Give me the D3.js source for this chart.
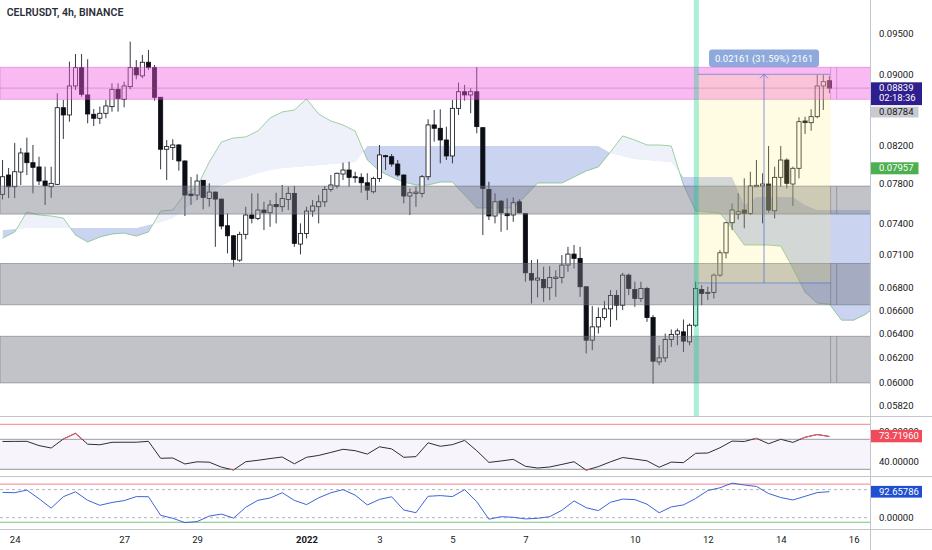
<!DOCTYPE html>
<html>
<head>
<meta charset="utf-8">
<script src="https://cdnjs.cloudflare.com/ajax/libs/d3/7.8.5/d3.min.js"></script>
<style>
  body { margin: 0; background: #fff; }
  svg { display: block; font-family: Roboto, "Noto Sans", sans-serif; }
</style>
</head>
<body>
<svg id="chart" width="932" height="550"></svg>
<script>
// CELRUSDT 4h candles, first visible bar Dec 23 2021 16:00
var firstBar = new Date(2021, 11, 23, 16);
var barHours = 4;

var open = [
  0.07686,0.07884,0.07763,0.07915,0.08116,0.08013,0.07968,0.07822,0.07763,0.07788,
  0.08614,0.08532,0.08864,0.09080,0.08760,0.08540,0.08495,0.08551,0.08626,0.08825,
  0.08710,0.08856,0.09080,0.08982,0.09145,0.09080,0.08733,0.08156,0.08173,0.08202,
  0.08031,0.07689,0.07679,0.07829,0.07645,0.07709,0.07638,0.07375,0.07278,0.07049,
  0.07292,0.07480,0.07447,0.07529,0.07502,0.07585,0.07562,0.07635,0.07696,0.07199,
  0.07301,0.07519,0.07562,0.07611,0.07736,0.07771,0.07894,0.07936,0.07866,0.07860,
  0.07804,0.07712,0.07849,0.08087,0.08076,0.07999,0.07884,0.07669,0.07696,0.07696,
  0.07866,0.08421,0.08384,0.08256,0.08084,0.08607,0.08797,0.08760,0.08797,0.08391,
  0.07736,0.07470,0.07618,0.07496,0.07480,0.07611,0.07496,0.06926,0.06866,0.06872,
  0.06797,0.06881,0.06890,0.07003,0.07105,0.07065,0.06806,0.06344,0.06456,0.06536,
  0.06611,0.06729,0.06643,0.06911,0.06782,0.06702,0.06791,0.06536,0.06165,0.06198,
  0.06350,0.06394,0.06414,0.06330,0.06470,0.06782,0.06747,0.06756,0.06911,0.07117,
  0.07404,0.07489,0.07529,0.07496,0.07763,0.07771,0.07791,0.07522,0.07860,0.08041,
  0.07791,0.07954,0.08465,0.08446,0.08513,0.08864,0.08926];
var high = [
  0.08041,0.07957,0.08224,0.08170,0.08281,0.08202,0.08076,0.07971,0.07971,0.08779,
  0.08702,0.09152,0.09245,0.09245,0.09181,0.08599,0.08626,0.08702,0.08895,0.08895,
  0.08914,0.09396,0.09172,0.09233,0.09294,0.09112,0.08737,0.08256,0.08264,0.08213,
  0.08036,0.07863,0.07891,0.07832,0.07798,0.07714,0.07643,0.07496,0.07285,0.07317,
  0.07561,0.07696,0.07696,0.07611,0.07628,0.07702,0.07781,0.07763,0.07771,0.07398,
  0.07561,0.07628,0.07679,0.07771,0.07884,0.07908,0.08013,0.08023,0.07918,0.07902,
  0.07902,0.07866,0.08202,0.08095,0.08105,0.08041,0.07889,0.07746,0.07763,0.07884,
  0.08484,0.08588,0.08596,0.08402,0.08702,0.08902,0.08876,0.08837,0.09085,0.08391,
  0.07814,0.07696,0.07628,0.07645,0.07655,0.07635,0.07499,0.07049,0.07056,0.06987,
  0.06993,0.06956,0.07096,0.07173,0.07190,0.07173,0.06806,0.06635,0.06623,0.06681,
  0.06776,0.06776,0.06932,0.06926,0.06851,0.06851,0.06806,0.06557,0.06302,0.06400,
  0.06434,0.06442,0.06519,0.06485,0.06851,0.06821,0.06806,0.06926,0.07142,0.07413,
  0.07595,0.07696,0.07850,0.07918,0.08041,0.07902,0.08191,0.07971,0.08191,0.08059,
  0.07971,0.08506,0.08513,0.08596,0.08994,0.08994,0.08982];
var low = [
  0.07635,0.07648,0.07648,0.07781,0.07884,0.07696,0.07781,0.07579,0.07651,0.07781,
  0.08267,0.08457,0.08817,0.08740,0.08439,0.08409,0.08432,0.08495,0.08569,0.08569,
  0.08619,0.08825,0.08942,0.08955,0.09053,0.08694,0.07943,0.07832,0.08041,0.07929,
  0.07470,0.07579,0.07628,0.07536,0.07562,0.07173,0.07340,0.07111,0.06987,0.07033,
  0.07244,0.07398,0.07430,0.07333,0.07365,0.07398,0.07512,0.07529,0.07173,0.07102,
  0.07253,0.07463,0.07398,0.07561,0.07712,0.07746,0.07832,0.07763,0.07804,0.07702,
  0.07628,0.07696,0.07814,0.07936,0.07971,0.07866,0.07595,0.07480,0.07561,0.07655,
  0.07832,0.08238,0.08006,0.08041,0.08006,0.08532,0.08694,0.08551,0.08329,0.07285,
  0.07430,0.07398,0.07317,0.07333,0.07413,0.07496,0.06851,0.06658,0.06711,0.06672,
  0.06687,0.06716,0.06836,0.06941,0.06972,0.06716,0.06234,0.06261,0.06400,0.06513,
  0.06456,0.06513,0.06600,0.06731,0.06629,0.06672,0.06499,0.05992,0.06138,0.06165,
  0.06288,0.06302,0.06247,0.06302,0.06456,0.06643,0.06687,0.06702,0.06896,0.07065,
  0.07333,0.07436,0.07350,0.07480,0.07763,0.07398,0.07502,0.07447,0.07763,0.07746,
  0.07569,0.07849,0.08321,0.08357,0.08495,0.08588,0.08779];
var close = [
  0.07866,0.07763,0.07918,0.08116,0.08013,0.07964,0.07822,0.07773,0.07798,0.08614,
  0.08532,0.08864,0.09080,0.08768,0.08543,0.08495,0.08551,0.08634,0.08825,0.08717,
  0.08864,0.09080,0.08994,0.09145,0.09080,0.08733,0.08156,0.08184,0.08202,0.08031,
  0.07679,0.07673,0.07822,0.07655,0.07709,0.07638,0.07372,0.07278,0.07056,0.07292,
  0.07480,0.07447,0.07529,0.07502,0.07579,0.07562,0.07645,0.07696,0.07206,0.07301,
  0.07519,0.07569,0.07611,0.07736,0.07781,0.07902,0.07936,0.07860,0.07856,0.07804,
  0.07729,0.07849,0.08095,0.08076,0.07999,0.07884,0.07669,0.07702,0.07709,0.07866,
  0.08421,0.08384,0.08256,0.08084,0.08607,0.08797,0.08760,0.08797,0.08402,0.07746,
  0.07470,0.07611,0.07502,0.07473,0.07601,0.07502,0.06932,0.06866,0.06884,0.06797,
  0.06890,0.06893,0.07003,0.07105,0.07065,0.06806,0.06344,0.06456,0.06536,0.06611,
  0.06729,0.06643,0.06911,0.06791,0.06702,0.06791,0.06536,0.06171,0.06198,0.06350,
  0.06392,0.06422,0.06336,0.06470,0.06791,0.06747,0.06756,0.06911,0.07117,0.07404,
  0.07529,0.07512,0.07496,0.07771,0.07778,0.07791,0.07529,0.07860,0.08041,0.07798,
  0.07954,0.08457,0.08446,0.08513,0.08864,0.08914,0.08839];

// ichimoku leading spans, one value every 2 bars (index 0, 2, 4 ...)
var spanA = [
  0.07256,0.07314,0.07509,0.07480,0.07470,0.07450,0.07285,0.07218,0.07266,0.07295,
  0.07304,0.07275,0.07314,0.07519,0.07529,0.07689,0.07760,0.08020,0.08234,0.08278,
  0.08289,0.08354,0.08498,0.08566,0.08588,0.08714,0.08543,0.08465,0.08421,0.08354,
  0.08041,0.07926,0.07863,0.07811,0.07781,0.07781,0.07811,0.07811,0.07679,0.07549,
  0.07549,0.07549,0.07549,0.07669,0.07801,0.07801,0.07801,0.07863,0.07926,0.07968,
  0.08127,0.08300,0.08256,0.08202,0.08202,0.08191,0.07781,0.07519,0.07509,0.07499,
  0.07352,0.07190,0.07190,0.07190,0.07180,0.06975,0.06758,0.06661,0.06652,0.06513,
  0.06513,0.06565,0.06644];
var spanB = [
  0.07333,0.07343,0.07352,0.07352,0.07352,0.07352,0.07352,0.07352,0.07352,0.07352,
  0.07352,0.07352,0.07382,0.07411,0.07450,0.07549,0.07628,0.07709,0.07781,0.07832,
  0.07863,0.07905,0.07936,0.07957,0.07968,0.07978,0.07989,0.07999,0.08010,0.08020,
  0.08191,0.08191,0.08191,0.08191,0.08191,0.08191,0.08191,0.08191,0.08191,0.08191,
  0.08191,0.08191,0.08191,0.08191,0.08191,0.08191,0.08191,0.08191,0.08191,0.08191,
  0.08116,0.08084,0.08052,0.08041,0.08031,0.08020,0.07863,0.07863,0.07863,0.07863,
  0.07863,0.07579,0.07658,0.07658,0.07658,0.07658,0.07579,0.07529,0.07529,0.07529,
  0.07529,0.07529,0.07529];

// oscillators, one value every 2 bars
var rsi = [
  67.1,67.2,67.3,61.6,58.4,70.4,78.0,63.5,62.7,66.0,
  66.1,66.1,67.3,44.7,45.1,37.1,40.0,39.5,32.9,29.1,
  40.1,42.0,44.3,46.4,37.3,46.0,48.5,52.5,56.7,54.8,
  50.3,60.0,57.2,46.0,46.9,65.3,60.7,62.9,68.5,54.8,
  39.2,41.1,43.3,34.0,31.7,33.1,36.5,40.1,28.9,33.6,
  40.0,45.7,43.6,41.3,32.7,39.6,38.9,51.3,51.7,58.7,
  67.6,67.1,71.3,64.1,70.0,65.9,72.7,76.4,73.7196];
var stoch = [
  90.2,89.1,98.4,67.7,34.2,74.8,92.3,62.0,44.2,54.2,
  60.9,75.2,74.8,8.6,-2.1,-17.5,-13.9,5.7,12.8,-1.4,
  37.1,62.0,70.2,89.1,61.7,46.7,70.9,88.7,100.1,80.5,
  45.3,65.2,74.5,27.4,17.8,76.3,78.8,75.2,100.1,57.0,
  -5.3,3.6,1.4,-4.3,-2.1,3.6,26.4,59.9,35.6,25.3,
  54.9,66.3,64.5,48.1,17.5,38.5,45.6,68.4,96.9,106.6,
  123.3,116.5,111.5,86.2,72.0,63.1,76.3,89.5,92.65786];

// horizontal zones [top, bottom]
var pinkZone = [0.09085, 0.08710];
var grayZones = [[0.07770, 0.07489], [0.07018, 0.06646], [0.06377, 0.05997]];
var measureTop = 0.09001, measureBottom = 0.06840;

var priceTicks = [0.095, 0.09, 0.082, 0.078, 0.074, 0.071, 0.068, 0.066, 0.064, 0.062, 0.06, 0.0582];
var dayTicks = [new Date(2021,11,24), new Date(2021,11,27), new Date(2021,11,29), new Date(2022,0,1),
  new Date(2022,0,3), new Date(2022,0,5), new Date(2022,0,7), new Date(2022,0,10),
  new Date(2022,0,12), new Date(2022,0,14), new Date(2022,0,16)];
var dayLabels = ['24', '27', '29', '2022', '3', '5', '7', '10', '12', '14', '16'];

var W = 932, H = 550, axisX = 871, paneBottom = 416.5;
var ink = '#131722';

function barTime(i) { return new Date(firstBar.getTime() + i * barHours * 3600 * 1000); }

var x = d3.scaleTime().domain([new Date(2021,11,24), new Date(2022,0,16)]).range([14.7, 853.7]);
var y = d3.scaleLog().domain([0.095, 0.0582]).range([33.3, 405.7]);
var yRsi = d3.scaleLinear().domain([30, 70]).range([469.3, 439.3]);
var yStoch = d3.scaleLinear().domain([0, 100]).range([517.7, 489.64]);

var svg = d3.select('#chart');
var defs = svg.append('defs');
defs.append('clipPath').attr('id', 'pane').append('rect')
  .attr('x', 0).attr('y', 0).attr('width', axisX).attr('height', paneBottom);

// cloud
var cloud = spanA.map(function(a, k) { return {t: barTime(2 * k), a: a, b: spanB[k]}; });
var cx = function(d) { return x(d.t); };
defs.append('clipPath').attr('id', 'aboveB').append('path')
  .attr('d', d3.area().x(cx).y0(0).y1(function(d) { return y(d.b); })(cloud));
defs.append('clipPath').attr('id', 'belowB').append('path')
  .attr('d', d3.area().x(cx).y0(function(d) { return y(d.b); }).y1(paneBottom)(cloud));
var band = d3.area().x(cx).y0(function(d) { return y(d.b); }).y1(function(d) { return y(d.a); });

var main = svg.append('g').attr('clip-path', 'url(#pane)');
main.append('path').attr('d', band(cloud)).attr('fill', 'rgba(100,130,210,0.11)').attr('clip-path', 'url(#aboveB)');
main.append('path').attr('d', band(cloud)).attr('fill', 'rgba(100,130,210,0.34)').attr('clip-path', 'url(#belowB)');
main.append('path').attr('d', d3.line().x(cx).y(function(d) { return y(d.a); })(cloud))
  .attr('fill', 'none').attr('stroke', 'rgba(76,175,80,0.6)').attr('stroke-width', 0.9);

// candles
var bars = open.map(function(o, i) { return {t: barTime(i), o: o, h: high[i], l: low[i], c: close[i]}; });
var bw = 4.2;
var gBars = main.append('g');
gBars.selectAll('line').data(bars).enter().append('line')
  .attr('x1', function(d) { return x(d.t); }).attr('x2', function(d) { return x(d.t); })
  .attr('y1', function(d) { return y(d.h); }).attr('y2', function(d) { return y(d.l); })
  .attr('stroke', '#363a45').attr('stroke-width', 1);
gBars.selectAll('rect').data(bars).enter().append('rect')
  .attr('x', function(d) { return x(d.t) - bw / 2; })
  .attr('y', function(d) { return y(Math.max(d.o, d.c)); })
  .attr('width', bw)
  .attr('height', function(d) { return Math.max(1, Math.abs(y(d.o) - y(d.c))); })
  .attr('fill', function(d) { return d.c >= d.o ? '#ffffff' : '#0c0e15'; })
  .attr('stroke', '#0c0e15').attr('stroke-width', 0.8);

// last price line
var last = close[close.length - 1];
main.append('line').attr('x1', 0).attr('x2', axisX).attr('y1', y(last)).attr('y2', y(last))
  .attr('stroke', 'rgba(120,40,140,0.35)').attr('stroke-width', 1);

// zones
grayZones.forEach(function(z) {
  main.append('rect').attr('x', 0).attr('width', axisX)
    .attr('y', y(z[0])).attr('height', y(z[1]) - y(z[0]))
    .attr('fill', 'rgba(120,123,134,0.45)').attr('stroke', 'rgba(100,103,114,0.6)').attr('stroke-width', 0.8);
});
main.append('rect').attr('x', 0).attr('width', axisX)
  .attr('y', y(pinkZone[0])).attr('height', y(pinkZone[1]) - y(pinkZone[0]))
  .attr('fill', 'rgba(240,90,225,0.42)').attr('stroke', 'rgba(200,60,200,0.45)').attr('stroke-width', 0.8);
[136.2, 137.2].forEach(function(bi) {
  var vx = x(barTime(bi));
  grayZones.concat([pinkZone]).forEach(function(z, zi) {
    main.append('line').attr('x1', vx).attr('x2', vx).attr('y1', y(z[0])).attr('y2', y(z[1]))
      .attr('stroke', zi === 3 ? 'rgba(180,60,180,0.35)' : 'rgba(100,103,114,0.45)').attr('stroke-width', 1);
  });
});

// measured range box
var mx0 = x(barTime(114.3)), mx1 = x(barTime(136.2)), mxc = (mx0 + mx1) / 2;
main.append('rect').attr('x', mx0).attr('width', mx1 - mx0)
  .attr('y', y(measureTop)).attr('height', y(measureBottom) - y(measureTop))
  .attr('fill', 'rgba(255,240,100,0.18)');
[measureTop, measureBottom].forEach(function(p) {
  main.append('line').attr('x1', mx0).attr('x2', mx1).attr('y1', y(p)).attr('y2', y(p))
    .attr('stroke', 'rgba(70,110,210,0.6)').attr('stroke-width', 1);
});
main.append('line').attr('x1', mxc).attr('x2', mxc).attr('y1', y(measureBottom)).attr('y2', y(measureTop))
  .attr('stroke', 'rgba(70,110,210,0.7)').attr('stroke-width', 1);
main.append('path')
  .attr('d', 'M' + (mxc - 4) + ',' + (y(measureTop) + 4) + 'L' + mxc + ',' + y(measureTop) + 'L' + (mxc + 4) + ',' + (y(measureTop) + 4))
  .attr('fill', 'none').attr('stroke', 'rgba(70,110,210,0.7)').attr('stroke-width', 1);

// signal bar highlight
main.append('rect').attr('x', x(barTime(113.7))).attr('width', x(barTime(114.53)) - x(barTime(113.7)))
  .attr('y', 0).attr('height', paneBottom).attr('fill', 'rgba(0,205,140,0.33)');

// range label
svg.append('rect').attr('x', mxc - 55).attr('y', 49.5).attr('width', 110).attr('height', 17.5).attr('rx', 3)
  .attr('fill', 'rgba(110,145,210,0.78)');
svg.append('text').attr('x', mxc).attr('y', 61.5).attr('text-anchor', 'middle')
  .attr('font-size', 9.5).attr('fill', '#fff')
  .text(d3.format('.5f')(measureTop - measureBottom) + ' (' +
        d3.format('.2f')((measureTop - measureBottom) / measureBottom * 100) + '%) 2161');

// title
svg.append('text').attr('x', 6.7).attr('y', 16).attr('font-size', 10.5).attr('font-weight', 600)
  .attr('fill', '#2a2e39').text('CELRUSDT, 4h, BINANCE');

// RSI pane
var osc = rsi.map(function(v, k) { return {t: barTime(2 * k), v: v, s: stoch[k]}; });
svg.append('rect').attr('x', 0).attr('width', axisX).attr('y', yRsi(70)).attr('height', yRsi(30) - yRsi(70))
  .attr('fill', 'rgba(126,87,194,0.06)');
svg.append('line').attr('x1', 0).attr('x2', axisX).attr('y1', yRsi(90)).attr('y2', yRsi(90))
  .attr('stroke', 'rgba(242,54,69,0.5)').attr('stroke-width', 1.3);
[70, 30].forEach(function(v, i) {
  svg.append('line').attr('x1', 0).attr('x2', axisX).attr('y1', yRsi(v)).attr('y2', yRsi(v))
    .attr('stroke', i ? '#8a9b8f' : '#9a9ca5').attr('stroke-width', 1);
});
var rsiLine = d3.line().x(cx).y(function(d) { return yRsi(d.v); });
svg.append('path').attr('d', rsiLine(osc)).attr('fill', 'none').attr('stroke', '#2a2e39').attr('stroke-width', 1);
var hot = defs.append('clipPath').attr('id', 'rsiHot');
hot.append('rect').attr('x', 0).attr('width', axisX).attr('y', 417).attr('height', yRsi(70) - 417);
hot.append('rect').attr('x', 0).attr('width', axisX).attr('y', yRsi(30)).attr('height', 476 - yRsi(30));
svg.append('path').attr('d', rsiLine(osc)).attr('fill', 'none').attr('stroke', '#f05a66').attr('stroke-width', 1.1)
  .attr('clip-path', 'url(#rsiHot)');

// stoch pane
svg.append('line').attr('x1', 0).attr('x2', axisX).attr('y1', yStoch(120)).attr('y2', yStoch(120))
  .attr('stroke', 'rgba(242,54,69,0.5)').attr('stroke-width', 1.2);
svg.append('line').attr('x1', 0).attr('x2', axisX).attr('y1', yStoch(-16.4)).attr('y2', yStoch(-16.4))
  .attr('stroke', 'rgba(76,175,80,0.75)').attr('stroke-width', 1.1);
[100, 0].forEach(function(v) {
  svg.append('line').attr('x1', 0).attr('x2', axisX).attr('y1', yStoch(v)).attr('y2', yStoch(v))
    .attr('stroke', '#b2b5be').attr('stroke-dasharray', '3,3');
});
svg.append('path').attr('d', d3.line().x(cx).y(function(d) { return yStoch(d.s); })(osc))
  .attr('fill', 'none').attr('stroke', '#3f63d8').attr('stroke-width', 1);

// separators and axis line
[416.5, 476.5, 529.5].forEach(function(sy) {
  svg.append('line').attr('x1', 0).attr('x2', W).attr('y1', sy).attr('y2', sy)
    .attr('stroke', '#c3c5cc').attr('stroke-width', 1);
});
svg.append('line').attr('x1', axisX - 0.5).attr('x2', axisX - 0.5).attr('y1', 0).attr('y2', H)
  .attr('stroke', '#c3c5cc').attr('stroke-width', 1);

function styleAxis(g) {
  g.select('.domain').remove();
  g.selectAll('text').attr('font-family', 'Roboto, "Noto Sans", sans-serif').attr('font-size', 9.5).attr('fill', ink);
}
svg.append('g').attr('transform', 'translate(' + axisX + ',0)')
  .call(d3.axisRight(y).tickValues(priceTicks).tickFormat(d3.format('.5f')).tickSize(0).tickPadding(8))
  .call(styleAxis);
svg.append('g').attr('transform', 'translate(' + axisX + ',0)')
  .call(d3.axisRight(yRsi).tickValues([80, 40]).tickFormat(d3.format('.5f')).tickSize(0).tickPadding(8))
  .call(styleAxis);
svg.append('g').attr('transform', 'translate(' + axisX + ',0)')
  .call(d3.axisRight(yStoch).tickValues([0]).tickFormat(d3.format('.5f')).tickSize(0).tickPadding(8))
  .call(styleAxis);
svg.append('g').attr('transform', 'translate(0,529.5)')
  .call(d3.axisBottom(x).tickValues(dayTicks).tickSize(0).tickPadding(7)
    .tickFormat(function(d, i) { return dayLabels[i]; }))
  .call(styleAxis)
  .selectAll('text').attr('font-weight', function(d, i) { return dayLabels[i] === '2022' ? 700 : 400; });

// value labels on the price scale
function tag(yTop, h, w, fill, color, lines) {
  svg.append('rect').attr('x', axisX).attr('y', yTop).attr('width', w).attr('height', h).attr('fill', fill);
  lines.forEach(function(t, i) {
    svg.append('text').attr('x', axisX + 8).attr('y', yTop + 8.6 + i * 10.3)
      .attr('font-size', 9.5).attr('fill', color).text(t);
  });
}
tag(y(last) - 5.8, 22.8, 51, '#2e1e8e', '#fff', [d3.format('.5f')(last), '02:18:36']);
tag(106.7, 10.8, 47.5, '#c9cacf', ink, ['0.08784']);
tag(162.3, 12, 47.5, '#4caf50', '#fff', ['0.07957']);
tag(yRsi(rsi[rsi.length - 1]) - 6.6, 12.4, 51, '#f24a58', '#fff', [d3.format('.5f')(rsi[rsi.length - 1])]);
tag(yStoch(stoch[stoch.length - 1]) - 5.8, 11.7, 51, '#1f4fd1', '#fff', [d3.format('.5f')(stoch[stoch.length - 1])]);
</script>
</body>
</html>
